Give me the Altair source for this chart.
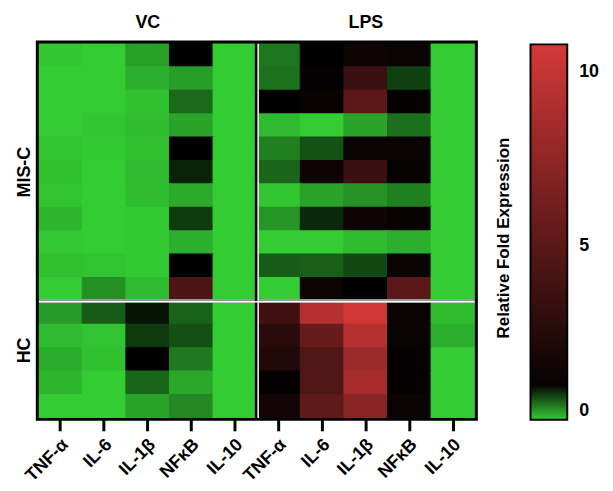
import altair as alt
import pandas as pd

genes = ["TNF-α", "IL-6", "IL-1β", "NFκB", "IL-10"]
treatments = ["VC", "LPS"]
misc_ids = [f"M{i:02d}" for i in range(1, 12)]
hc_ids = [f"H{i:02d}" for i in range(1, 6)]

# rows: patients; columns: TNF-α, IL-6, IL-1β, NFκB, IL-10
vc_misc = [
    [0.02, 0.00, 0.15, 0.75, 0.00],
    [0.00, 0.00, 0.10, 0.16, 0.00],
    [0.00, 0.00, 0.04, 0.34, 0.00],
    [0.00, 0.02, 0.05, 0.14, 0.00],
    [0.03, 0.01, 0.04, 0.80, 0.00],
    [0.04, 0.00, 0.06, 0.58, 0.00],
    [0.03, 0.00, 0.05, 0.12, 0.00],
    [0.08, 0.00, 0.01, 0.50, 0.00],
    [0.01, 0.00, 0.01, 0.10, 0.00],
    [0.04, 0.03, 0.01, 0.80, 0.00],
    [0.00, 0.21, 0.06, 4.40, 0.00],
]
vc_hc = [
    [0.17, 0.38, 0.63, 0.36, 0.00],
    [0.06, 0.03, 0.50, 0.43, 0.00],
    [0.11, 0.04, 0.75, 0.28, 0.00],
    [0.08, 0.00, 0.35, 0.13, 0.00],
    [0.00, 0.00, 0.14, 0.23, 0.00],
]
lps_misc = [
    [0.30, 0.72, 1.40, 1.20, 0.00],
    [0.31, 0.85, 3.50, 0.48, 0.00],
    [0.72, 1.10, 5.00, 0.95, 0.00],
    [0.06, 0.00, 0.14, 0.32, 0.00],
    [0.26, 0.42, 1.20, 1.20, 0.00],
    [0.35, 1.35, 3.50, 1.00, 0.00],
    [0.02, 0.14, 0.20, 0.26, 0.00],
    [0.19, 0.56, 1.40, 1.00, 0.00],
    [0.00, 0.00, 0.05, 0.10, 0.00],
    [0.38, 0.37, 0.45, 1.20, 0.00],
    [0.00, 1.30, 0.80, 5.00, 0.00],
]
lps_hc = [
    [3.80, 9.30, 10.60, 1.20, 0.05],
    [2.70, 5.60, 9.30, 1.20, 0.10],
    [2.30, 4.50, 8.20, 0.95, 0.00],
    [0.85, 4.50, 8.60, 0.95, 0.00],
    [1.60, 5.20, 7.20, 1.20, 0.00],
]
legend_title = "Relative Fold Expression"

records = []
for treat, mats in (("VC", (vc_misc, vc_hc)), ("LPS", (lps_misc, lps_hc))):
    for ids, mat in zip((misc_ids, hc_ids), mats):
        for rid, row in zip(ids, mat):
            for g, v in zip(genes, row):
                records.append({"col": f"{treat}|{g}", "row": rid, "value": v})
df = pd.DataFrame(records)

col_order = [f"{t}|{g}" for t in treatments for g in genes]
row_order = misc_ids + hc_ids

FONT = "Liberation Sans"
W, H = 439, 377

x_enc = alt.X(
    "col:N",
    sort=col_order,
    scale=alt.Scale(domain=col_order, paddingInner=0, paddingOuter=0),
    axis=alt.Axis(
        title=None,
        labelExpr="split(datum.value, '|')[1]",
        labelAngle=-45,
        labelAlign="right",
        labelBaseline="middle",
        labelFont=FONT,
        labelFontSize=18,
        labelFontWeight="bold",
        labelColor="black",
        labelPadding=11,
        labelOffset=5,
        tickSize=13,
        tickWidth=3,
        tickColor="black",
        domain=False,
    ),
)
y_enc = alt.Y(
    "row:N",
    sort=row_order,
    scale=alt.Scale(domain=row_order, paddingInner=0, paddingOuter=0),
    axis=alt.Axis(
        title=None,
        labelExpr="datum.value == 'M06' ? 'MIS-C' : (datum.value == 'H03' ? 'HC' : '')",
        labelAngle=270,
        labelAlign="center",
        labelBaseline="bottom",
        labelFont=FONT,
        labelFontSize=18,
        labelFontWeight="bold",
        labelColor="black",
        labelPadding=5,
        labelOffset={"condition": {"test": "datum.value == 'H03'", "value": -9}, "value": 0},
        ticks=False,
        domain=False,
    ),
)

cscale = alt.Scale(
    domain=[0, 0.7, 10.8],
    range=["#33CC33", "#000000", "#D43838"],
    interpolate="rgb",
    nice=False,
    clamp=True,
)

color_enc = alt.Color(
    "value:Q",
    scale=cscale,
    legend=alt.Legend(
        type="gradient",
        title=None,
        orient="none",
        direction="vertical",
        legendX=W + 56,
        legendY=1,
        values=[0, 5, 10],
        gradientLength=H + 1,
        gradientThickness=37,
        gradientStrokeColor="black",
        gradientStrokeWidth=2,
        labelFont=FONT,
        labelFontSize=18,
        labelFontWeight="bold",
        labelColor="black",
        labelOffset=12,
    ),
)

heat = alt.Chart(df).mark_rect(
    width=alt.RelativeBandSize(1.03), height=alt.RelativeBandSize(1.04)
).encode(x=x_enc, y=y_enc, color=color_enc)

vsep_df = pd.DataFrame({"col": ["LPS|TNF-α"]})
hsep_df = pd.DataFrame({"row": ["H01"]})

vsep_dark = alt.Chart(vsep_df).mark_rule(color="black", strokeWidth=4).encode(
    x=alt.X("col:N", sort=col_order, bandPosition=0)
)
vsep_light = alt.Chart(vsep_df).mark_rule(color="white", strokeWidth=1.5).encode(
    x=alt.X("col:N", sort=col_order, bandPosition=0.03)
)
hsep_dark = alt.Chart(hsep_df).mark_rule(color="#999999", strokeWidth=3.5).encode(
    y=alt.Y("row:N", sort=row_order, bandPosition=0)
)
hsep_light = alt.Chart(hsep_df).mark_rule(color="white", strokeWidth=1.5).encode(
    y=alt.Y("row:N", sort=row_order, bandPosition=0.04)
)

frame = alt.Chart(pd.DataFrame({"k": [0]})).mark_rect(
    fillOpacity=0, stroke="black", strokeWidth=3
).encode(
    x=alt.value(-1.5), x2=alt.value(W + 1.5),
    y=alt.value(-1.5), y2=alt.value(H + 1.5),
)

header_df = pd.DataFrame({"col": ["VC|IL-1β", "LPS|IL-1β"], "label": treatments})
headers = alt.Chart(header_df).mark_text(
    font=FONT, fontSize=18, fontWeight="bold", color="black", baseline="middle"
).encode(
    x=alt.X("col:N", sort=col_order),
    y=alt.value(-20),
    text="label:N",
)

ltitle_df = pd.DataFrame({"label": [legend_title]})
ltitle = alt.Chart(ltitle_df).mark_text(
    font=FONT, fontSize=17, fontWeight="bold", color="black",
    angle=270, align="center", baseline="middle",
).encode(
    x=alt.value(W + 29),
    y=alt.value(196),
    text="label:N",
)

chart = (
    alt.layer(heat, hsep_dark, vsep_dark, hsep_light, vsep_light, frame, headers, ltitle)
    .properties(width=W, height=H, padding={"left": 8, "top": 5, "right": 5, "bottom": 5})
    .configure_view(strokeWidth=0)
    .configure(background="white")
)

chart.save("out.html", embed_options={"renderer": "svg", "actions": False})
